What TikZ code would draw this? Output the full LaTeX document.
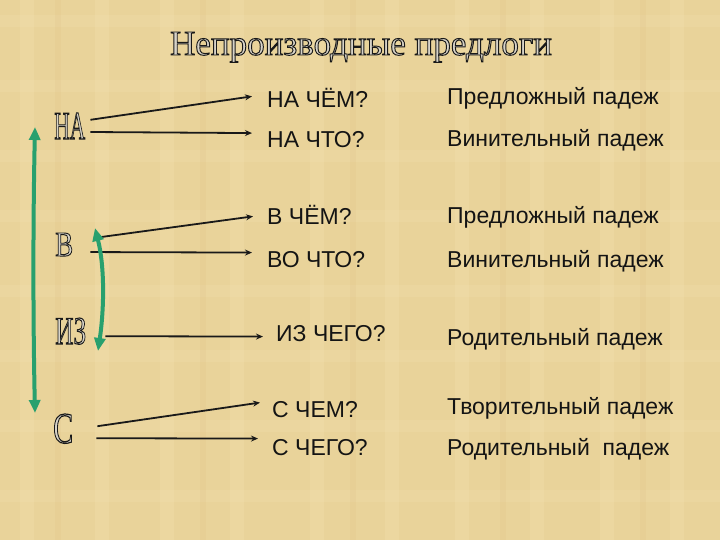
\documentclass[tikz,border=0pt]{standalone}
\usepackage{fontspec}
\setmainfont{Liberation Serif}
\newfontfamily\arialf{Liberation Sans}
\usepackage{graphicx}
\usetikzlibrary{arrows.meta}
\definecolor{bgtan}{RGB}{233,211,154}
\definecolor{bglight}{RGB}{245,228,180}
\definecolor{greenarr}{RGB}{40,160,110}
\definecolor{letterfill}{RGB}{215,211,200}
\newcommand\outltext[3]{\resizebox{#2pt}{#3pt}{\fontsize{40}{40}\selectfont\textcolor{letterfill}{\special{pdf:literal direct 2 Tr 1.1 w 0.1 0.1 0.1 RG}#1\special{pdf:literal direct 0 Tr}}}}
\tikzset{
  txt/.style={inner sep=0pt, anchor=base west, font=\arialf\fontsize{23}{23}\selectfont, text=black!92},
  lbl/.style={inner sep=0pt, anchor=base west},
  conn/.style={line width=1.8pt, black!90, -{Stealth[length=7pt,width=6pt]}},
  garr/.style={line width=4pt, greenarr, {Triangle[length=13pt,width=11pt]}-{Triangle[length=13pt,width=11pt]}}
}
\begin{document}
\begin{tikzpicture}[x=1pt,y=-1pt]
\useasboundingbox (0,0) rectangle (720,540);
\fill[bgtan] (0,0) rectangle (720,540);
% papyrus texture
\foreach \x in {20,95,160,230,310,385,455,530,600,670}
  \fill[bglight,opacity=0.25] (\x,0) rectangle ++(14,540);
\foreach \y in {15,80,150,210,285,350,420,490}
  \fill[bglight,opacity=0.22] (0,\y) rectangle ++(720,12);
\foreach \x in {55,200,350,500,640}
  \fill[brown!60!bgtan,opacity=0.08] (\x,0) rectangle ++(6,540);
% title
\node[inner sep=0pt, anchor=base] (title) at (361,55) {\outltext{Непроизводные предлоги}{382}{23}};
% left labels
\node[lbl] (na) at (54,139) {\outltext{НА}{31}{26}};
\node[lbl] (v) at (55,256) {\outltext{В}{18}{23}};
\node[lbl] (iz) at (55,344) {\outltext{ИЗ}{31}{26}};
\node[lbl] (s) at (53,443) {\outltext{С}{20}{29}};
% questions
\node[txt] (q1) at (267,108) {НА ЧЁМ?};
\node[txt] (q2) at (267,148) {НА ЧТО?};
\node[txt] (q3) at (267,225) {В ЧЁМ?};
\node[txt] (q4) at (267,267) {ВО ЧТО?};
\node[txt] (q5) at (276,341) {ИЗ ЧЕГО?};
\node[txt] (q6) at (272,417) {С ЧЕМ?};
\node[txt] (q7) at (272,455) {С ЧЕГО?};
% cases
\node[txt] (c1) at (447,105) {Предложный падеж};
\node[txt] (c2) at (447,147) {Винительный падеж};
\node[txt] (c3) at (447,223) {Предложный падеж};
\node[txt] (c4) at (447,267) {Винительный падеж};
\node[txt] (c5) at (447,345) {Родительный падеж};
\node[txt] (c6) at (447,414) {Творительный падеж};
\node[txt] (c7) at (447,455) {Родительный\ \ падеж};
% black connectors
\draw[conn] ([shift={(5,7)}]na.north east) -- ([shift={(-15,-2)}]q1.west);
\draw[conn] ([shift={(5,6)}]na.east) -- ([shift={(-15,-7)}]q2.west);
\draw[conn] ([shift={(22,5)}]v.north east) -- ([shift={(-14,1)}]q3.west);
\draw[conn] ([shift={(17,7.5)}]v.east) -- ([shift={(-15,-6.5)}]q4.west);
\draw[conn] ([shift={(19,5)}]iz.east) -- ([shift={(-13,3.5)}]q5.west);
\draw[conn] ([shift={(24,-2.5)}]s.east) -- ([shift={(-12,-6.5)}]q6.west);
\draw[conn] ([shift={(23,9.5)}]s.east) -- ([shift={(-14,-8.5)}]q7.west);
% green arrows
\coordinate (gbt) at (35,127);
\coordinate (gbb) at (35,413);
\draw[garr] (gbb) .. controls (33,320) and (33,220) .. (gbt);
\coordinate (gst) at (95,228);
\coordinate (gsb) at (98,351);
\draw[garr] (gst) .. controls (105,268) and (104,310) .. (gsb);
\end{tikzpicture}
\end{document}
